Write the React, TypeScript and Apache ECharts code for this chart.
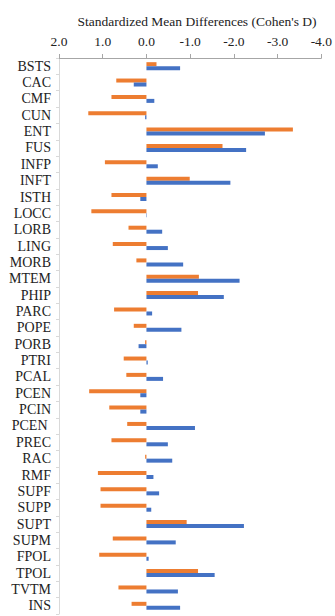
import React, { useEffect, useRef } from "react";
import * as echarts from "echarts";

const categories = ["BSTS","CAC","CMF","CUN","ENT","FUS","INFP","INFT","ISTH","LOCC","LORB","LING","MORB","MTEM","PHIP","PARC","POPE","PORB","PTRI","PCAL","PCEN","PCIN","PCEN ","PREC","RAC","RMF","SUPF","SUPP","SUPT","SUPM","FPOL","TPOL","TVTM","INS"];
const orangeValues = [-0.23,0.69,0.80,1.33,-3.35,-1.74,0.95,-0.99,0.80,1.26,0.41,0.77,0.23,-1.20,-1.18,0.74,0.29,0.03,0.52,0.46,1.31,0.85,0.44,0.80,0.03,1.11,1.05,1.05,-0.92,0.77,1.08,-1.18,0.64,0.34];
const blueValues = [-0.77,0.29,-0.18,0.03,-2.71,-2.28,-0.26,-1.92,0.14,-0.01,-0.36,-0.49,-0.84,-2.13,-1.77,-0.13,-0.80,0.18,-0.03,-0.38,0.14,0.14,-1.11,-0.49,-0.59,-0.16,-0.29,-0.11,-2.23,-0.67,-0.05,-1.56,-0.72,-0.77];
const tickLabels = ["-4.0","-3.0","-2.0","-1.0","0.0","1.0","2.0"];
const xTitle = "Standardized Mean Differences (Cohen's D)";

export default function App() {
  const ref = useRef<HTMLDivElement>(null);
  useEffect(() => {
    document.body.style.margin = "0";
    const chart = echarts.init(ref.current!, null, { renderer: "svg" });
    const font = "Liberation Serif";
    chart.setOption({
      animation: false,
      textStyle: { fontFamily: font },
      title: {
        text: xTitle,
        left: 192,
        top: 9,
        textAlign: "center",
        textStyle: { fontFamily: font, fontSize: 13.5, fontWeight: "normal", color: "#222" },
      },
      grid: { left: 59, right: 10, top: 58, bottom: 2, containLabel: false },
      xAxis: {
        type: "value",
        position: "top",
        inverse: true,
        min: -4,
        max: 2,
        interval: 1,
        axisLine: { show: true, lineStyle: { color: "#a6a6a6" } },
        axisTick: { show: true, length: 4, lineStyle: { color: "#a6a6a6" } },
        axisLabel: {
          fontFamily: font, fontSize: 13.5, color: "#222", margin: 10,
          formatter: (v: number) => tickLabels[Math.round(v) + 4],
        },
        splitLine: { show: false },
      },
      yAxis: [
        {
          type: "category",
          data: categories,
          inverse: true,
          axisLine: { show: false },
          axisTick: { show: false },
          axisLabel: { fontFamily: font, fontSize: 14, color: "#222", margin: 8, interval: 0 },
        },
        {
          type: "category",
          data: categories,
          inverse: true,
          position: "left",
          axisLine: { show: true, onZero: true, lineStyle: { color: "#d9d9d9" } },
          axisTick: { show: true, length: 3, interval: 0, lineStyle: { color: "#d9d9d9" } },
          axisLabel: { show: false },
        },
      ],
      series: [
        { type: "bar", name: "A", data: orangeValues, barWidth: 4, barGap: "0%", itemStyle: { color: "#ED7D31" } },
        { type: "bar", name: "B", data: blueValues, barWidth: 4, barGap: "0%", itemStyle: { color: "#4472C4" } },
      ],
    });
    return () => chart.dispose();
  }, []);
  return <div ref={ref} style={{ width: 335, height: 616 }} />;
}
